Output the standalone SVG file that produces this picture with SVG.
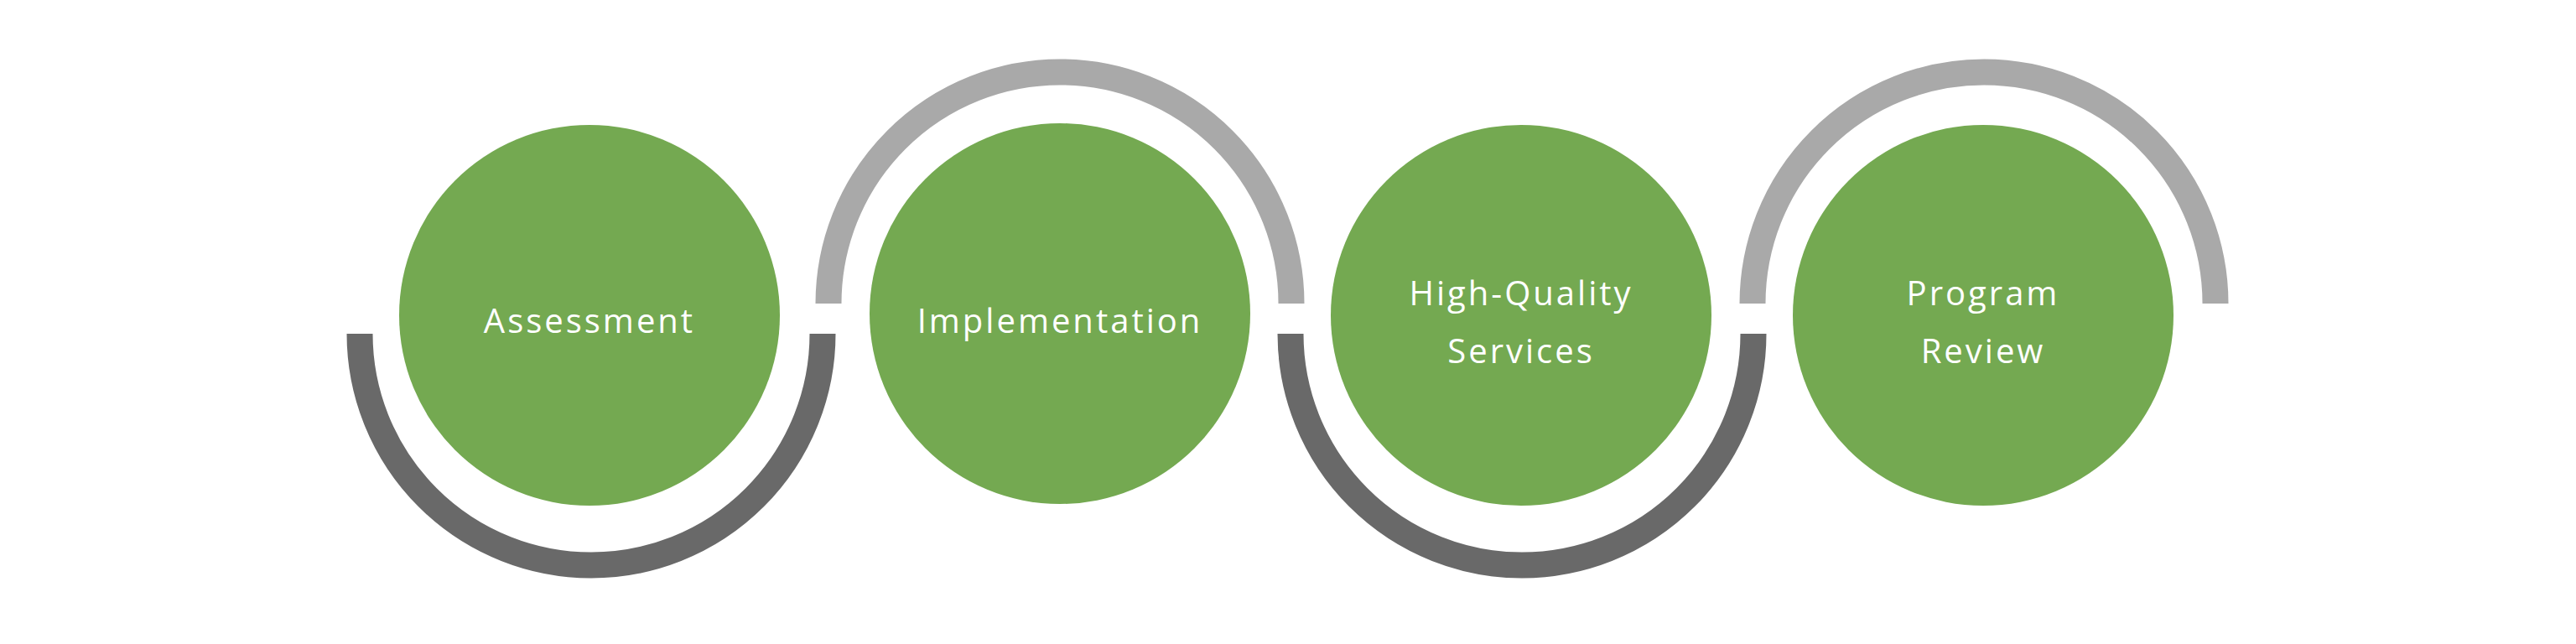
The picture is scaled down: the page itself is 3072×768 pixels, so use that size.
<svg xmlns="http://www.w3.org/2000/svg" width="3072" height="768" viewBox="0 0 3072 768">
<style>
.n{fill:#74a951}
.t{font-family:"Open Sans","Liberation Sans",sans-serif;font-size:40px;fill:#fff;text-anchor:middle;letter-spacing:3px}
.lo{fill:none;stroke:#696969;stroke-width:31}
.up{fill:none;stroke:#a9a9a9;stroke-width:31}
</style>
<rect width="3072" height="768" fill="#fff"/>
<g id="connectors">
<path class="lo" d="M429 398 A276 276 0 0 0 981 398"/>
<path class="up" d="M988 362 A276 276 0 0 1 1540 362"/>
<path class="lo" d="M1539 398 A276 276 0 0 0 2091 398"/>
<path class="up" d="M2090 362 A276 276 0 0 1 2642 362"/>
</g>
<g id="assessment"><circle class="n" cx="703" cy="376" r="227"/><text class="t" x="703" y="397">Assessment</text></g>
<g id="implementation"><circle class="n" cx="1264" cy="374" r="227"/><text class="t" x="1264" y="397">Implementation</text></g>
<g id="high-quality-services"><circle class="n" cx="1814" cy="376" r="227"/><text class="t" x="1814" y="364">High-Quality</text><text class="t" x="1814" y="433">Services</text></g>
<g id="program-review"><circle class="n" cx="2365" cy="376" r="227"/><text class="t" x="2365" y="364">Program</text><text class="t" x="2365" y="433">Review</text></g>
</svg>
